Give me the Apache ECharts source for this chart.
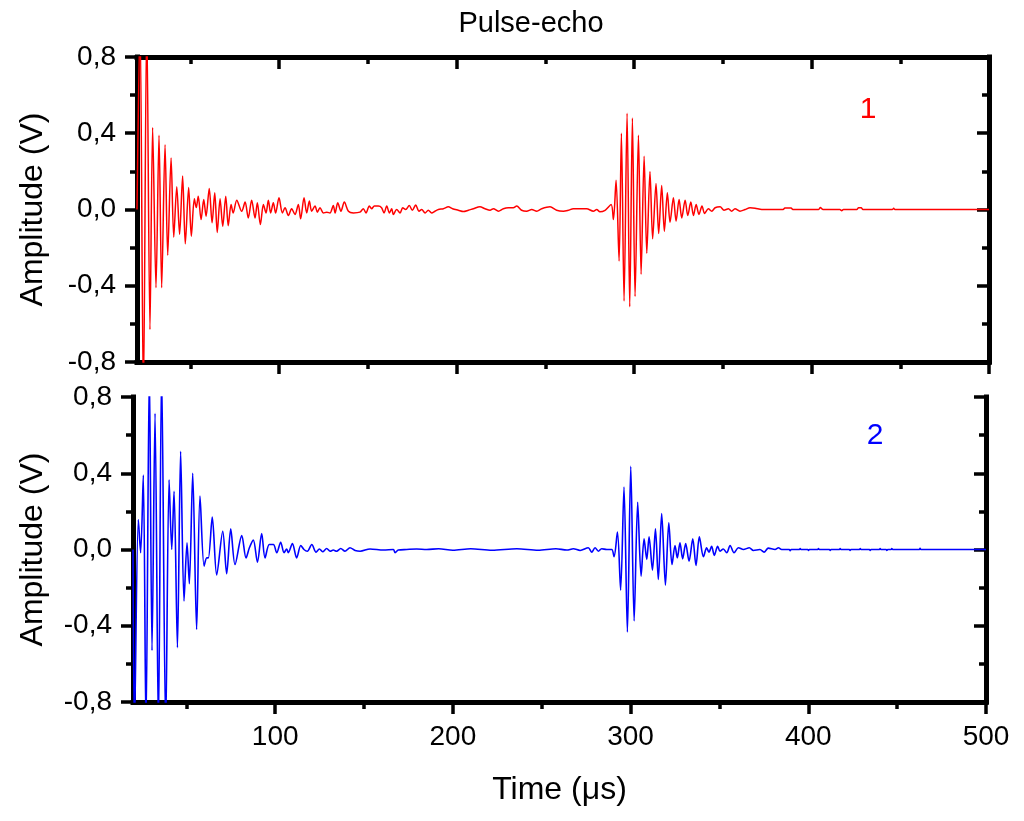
<!DOCTYPE html>
<html>
<head>
<meta charset="utf-8">
<title>Pulse-echo</title>
<script src="https://cdn.jsdelivr.net/npm/echarts@6/dist/echarts.min.js"></script>
<style>html,body{margin:0;padding:0;background:#fff;}</style>
</head>
<body>
<div id="main" style="width:1024px;height:821px;"></div>
<script>
// tick values
var timeTicks = [100, 200, 300, 400, 500];
var timeMinorTicks = [50, 150, 250, 350, 450];
var ampTicks = [-0.8, -0.4, 0, 0.4, 0.8];

// signal 1 (red), [time µs, amplitude V], read peak by peak
var topRinging = [
  [20.0, 0.0], [21.7, 1.0], [23.6, -1.0], [25.5, 1.0], [27.3, -0.63], [28.8, 0.43],
  [30.7, -0.41], [32.4, 0.39], [33.9, -0.41], [35.8, 0.34], [37.3, -0.24], [39.2, 0.27],
  [40.7, -0.145], [42.4, 0.12], [44.0, -0.13], [45.7, 0.176], [47.2, -0.18], [49.1, 0.115],
  [50.6, -0.14], [52.3, 0.056], [53.4, 0.01], [54.5, 0.07], [56.1, -0.053], [57.6, 0.053],
  [58.9, -0.035], [60.7, 0.11], [62.3, -0.07], [63.8, 0.088], [65.2, -0.12], [66.8, 0.056],
  [68.3, -0.088], [70.0, 0.07], [71.4, -0.085], [73.0, 0.026], [74.2, -0.018], [76.2, 0.049]
];
var topNoise = [
  [79.0, -0.009], [80.9, 0.039], [82.7, -0.044], [84.6, 0.049], [86.5, -0.044], [87.8, 0.035],
  [89.5, -0.079], [91.2, 0.026], [92.7, -0.018], [94.0, 0.049], [95.3, -0.018], [96.8, 0.035],
  [98.1, -0.018], [100.0, 0.061], [101.9, -0.018], [103.4, 0.009], [105.3, -0.032], [107.1, 0.004],
  [109.0, -0.026], [110.9, 0.026], [112.2, -0.049], [114.1, 0.061], [115.6, -0.018], [117.1, 0.044],
  [118.4, -0.009], [120.3, 0.018], [121.6, -0.014], [123.1, 0.009], [125.0, -0.018], [126.9, -0.014],
  [128.7, -0.018], [130.6, 0.021], [131.6, -0.018], [133.1, 0.035], [134.9, -0.009], [136.8, 0.039],
  [139.1, -0.009], [141.9, -0.018], [145.6, -0.014], [147.5, 0.004], [149.0, -0.018], [150.9, 0.018],
  [152.2, 0.004], [153.7, 0.018], [156.0, 0.018], [157.8, 0.009], [159.2, -0.018], [160.7, 0.018],
  [162.2, -0.018], [163.5, 0.004], [164.4, -0.026], [166.3, 0.0], [168.2, -0.018], [169.7, 0.009],
  [171.4, 0.0], [173.4, 0.021], [175.1, -0.004], [177.0, 0.023], [178.9, -0.009], [180.4, 0.0],
  [182.3, -0.018], [184.1, -0.004], [186.0, -0.018], [187.9, -0.009], [189.8, 0.0], [192.6, 0.004],
  [195.4, 0.014], [197.8, 0.004], [201.0, -0.004], [203.9, -0.011], [206.7, -0.004], [209.5, 0.004],
  [213.2, 0.014], [216.1, 0.004], [218.9, -0.004], [220.8, 0.004], [223.6, -0.009], [226.4, 0.004],
  [229.2, 0.009], [232.0, 0.009], [233.9, 0.018], [236.7, -0.004], [239.5, -0.009], [242.4, 0.0],
  [245.2, -0.009], [248.0, 0.004], [252.7, 0.014], [256.4, -0.004], [260.2, -0.009], [263.0, -0.004],
  [265.8, 0.004], [273.3, 0.004], [277.1, -0.009], [279.0, 0.0], [280.8, -0.012], [283.7, -0.004]
];
var topEcho = [
  [287.1, 0.026], [288.4, -0.053], [289.9, 0.154], [291.6, -0.27], [292.9, 0.40], [294.4, -0.48],
  [296.1, 0.505], [297.6, -0.51], [299.1, 0.48], [300.6, -0.456], [302.5, 0.39], [304.0, -0.34],
  [305.7, 0.28], [307.2, -0.23], [309.0, 0.20], [310.5, -0.154], [312.4, 0.137], [313.9, -0.126],
  [315.6, 0.126], [317.1, -0.114], [318.8, 0.088], [320.3, -0.067], [322.2, 0.061], [323.7, -0.061],
  [325.4, 0.053], [326.9, -0.044], [328.8, 0.049], [330.3, -0.032], [332.0, 0.039], [333.5, -0.032],
  [335.0, 0.026], [336.6, -0.026], [338.3, 0.018], [339.8, -0.021], [341.9, 0.004], [343.8, -0.009],
  [345.7, 0.009], [348.5, 0.014], [350.7, -0.004], [353.2, 0.004], [355.0, -0.009], [356.9, 0.004],
  [359.7, -0.009], [362.6, 0.0], [365.4, 0.009], [368.2, 0.007], [372.0, 0.0]
];
var topTail = [
  [384.0, 0.0], [385.0, 0.008], [388.5, 0.008], [389.5, 0.0], [404.0, 0.0], [405.0, 0.01],
  [406.5, 0.0], [416.0, 0.0], [417.0, -0.006], [418.0, 0.0], [425.5, 0.0], [426.5, 0.009],
  [428.0, 0.009], [429.0, 0.0], [445.5, 0.0], [446.3, 0.006], [447.0, 0.0], [500.0, 0.0]
];

// signal 2 (blue)
var bottomRinging = [
  [20.0, 0.0], [20.8, -0.95], [23.0, 0.157], [24.3, -0.017], [25.8, 0.39], [27.3, -0.95],
  [29.2, 0.95], [30.7, -0.53], [32.4, 0.715], [34.3, -0.95], [36.1, 0.95], [38.4, -0.95],
  [40.3, 0.366], [41.8, 0.0], [43.1, 0.305], [45.0, -0.515], [46.8, 0.515], [48.7, -0.27],
  [50.4, 0.035], [51.7, -0.18], [53.6, 0.40], [55.8, -0.42], [57.7, 0.28], [60.0, -0.087],
  [61.5, -0.044], [62.4, -0.044], [64.6, 0.17], [67.1, -0.134], [70.5, 0.096], [72.7, -0.127],
  [75.0, 0.108], [77.4, -0.079], [81.2, 0.073]
];
var bottomNoise = [
  [83.6, -0.044], [85.5, 0.009], [87.7, 0.049], [90.0, -0.066], [92.4, 0.084], [94.3, -0.044],
  [96.7, 0.026], [99.0, 0.026], [100.9, -0.017], [103.1, 0.038], [105.0, -0.017], [106.5, 0.003],
  [107.4, -0.017], [109.7, 0.031], [112.1, -0.044], [114.4, 0.021], [116.2, 0.0], [118.1, -0.009],
  [120.6, 0.026], [123.0, -0.014], [124.9, 0.003], [126.7, -0.012], [129.0, 0.005], [130.9, -0.009],
  [132.7, -0.003], [134.6, -0.009], [136.9, 0.005], [139.3, -0.009], [142.1, 0.009], [145.0, -0.005],
  [147.8, -0.009], [153.4, 0.003], [160.9, -0.003], [166.5, 0.0], [167.5, -0.017], [169.3, -0.003],
  [174.0, 0.0], [179.6, 0.003], [185.3, 0.0], [192.0, 0.004], [200.0, -0.004], [210.0, 0.004],
  [222.0, -0.004], [236.0, 0.004], [248.0, -0.004], [258.0, 0.004], [264.1, -0.003], [267.8, 0.004],
  [271.6, -0.005], [276.2, 0.009], [278.1, -0.014], [280.0, 0.009], [281.9, -0.009], [283.7, 0.004],
  [286.6, 0.0], [289.4, 0.0]
];
var bottomEcho = [
  [290.7, -0.038], [292.6, 0.091], [294.4, -0.213], [296.3, 0.328], [298.2, -0.433], [300.1, 0.436],
  [302.0, -0.375], [304.0, 0.248], [305.9, -0.14], [307.6, 0.056], [309.1, -0.052], [310.4, 0.066],
  [312.3, -0.108], [314.0, 0.108], [315.6, -0.157], [317.5, 0.188], [319.6, -0.187], [321.5, 0.14],
  [323.3, -0.079], [325.0, 0.021], [326.3, -0.044], [327.8, 0.035], [329.3, -0.049], [331.0, 0.031],
  [332.9, -0.061], [335.0, 0.056], [336.8, -0.084], [338.7, 0.066], [341.0, -0.038], [342.8, 0.009],
  [344.1, -0.014], [345.6, 0.017], [347.1, -0.031], [349.0, 0.017], [350.3, -0.009], [352.2, 0.003],
  [354.1, -0.017], [356.0, 0.021], [358.2, -0.017], [360.7, 0.009], [363.5, 0.0], [366.8, 0.009],
  [369.1, -0.005], [372.8, 0.0], [375.1, -0.014], [377.5, 0.007], [381.3, 0.0], [383.2, 0.009]
];
var bottomTail = [
  [385.0, 0.0], [389.3, 0.0], [389.8, -0.006], [390.4, 0.0], [395.0, 0.0], [395.4, 0.005],
  [395.9, 0.0], [399.7, 0.0], [400.1, -0.005], [400.6, 0.0], [405.3, 0.0], [405.7, 0.005],
  [406.2, 0.0], [411.9, 0.0], [412.3, -0.005], [412.8, 0.0], [417.5, 0.0], [417.9, 0.005],
  [418.4, 0.0], [423.1, 0.0], [423.5, -0.005], [424.0, 0.0], [428.8, 0.0], [429.2, 0.005],
  [429.7, 0.0], [434.4, 0.0], [434.8, -0.005], [435.3, 0.0], [440.0, 0.0], [440.4, 0.005],
  [440.9, 0.0], [443.8, 0.0], [444.2, -0.005], [444.7, 0.0], [446.6, 0.0], [447.0, 0.005],
  [447.5, 0.0], [462.5, 0.0], [462.9, 0.006], [463.4, 0.0], [500.0, 0.0]
];

var font = 'Liberation Sans, Arial, sans-serif';
var black = { color: '#000', width: 5, cap: 'square' };
var tickLine = { color: '#000', width: 3.5 };

function xAxisOf(grid, pos, ticks, len, inside, showLine, showLabel, name) {
  return {
    type: 'value', gridIndex: grid, position: pos, min: 20, max: 500,
    axisLine: { show: showLine, onZero: false, lineStyle: black },
    axisTick: { show: true, inside: inside, length: len, customValues: ticks, lineStyle: tickLine },
    axisLabel: { show: showLabel, customValues: ticks, margin: 21, fontSize: 28, color: '#000', fontFamily: font },
    splitLine: { show: false },
    name: name || '', nameLocation: 'middle', nameGap: 72,
    nameTextStyle: { fontSize: 32, color: '#000', fontFamily: font }
  };
}

function yAxisOf(grid, pos, inside, showLabel, name, gap) {
  return {
    type: 'value', gridIndex: grid, position: pos, min: -0.8, max: 0.8, interval: 0.4,
    axisLine: { show: true, onZero: false, lineStyle: black },
    axisTick: { show: true, inside: inside, length: 12, lineStyle: tickLine },
    minorTick: { show: true, splitNumber: 2, length: 7, lineStyle: tickLine },
    axisLabel: {
      show: showLabel, margin: 21, fontSize: 28, color: '#000', fontFamily: font,
      formatter: function (v) { return v.toFixed(1).replace('.', ','); }
    },
    splitLine: { show: false },
    name: name || '', nameLocation: 'middle', nameGap: gap || 0,
    nameTextStyle: { fontSize: 32, color: '#000', fontFamily: font }
  };
}

var chart = echarts.init(document.getElementById('main'));
chart.setOption({
  animation: false,
  backgroundColor: '#fff',
  title: {
    text: 'Pulse-echo', left: 526, top: 4, textAlign: 'center',
    textStyle: { fontSize: 29, fontWeight: 'normal', color: '#000', fontFamily: font }
  },
  grid: [
    { left: 137, right: 35, top: 57, height: 305 },
    { left: 133, right: 38, top: 397, height: 305 }
  ],
  xAxis: [
    xAxisOf(0, 'bottom', timeTicks, 12, false, true, false),
    xAxisOf(0, 'bottom', timeMinorTicks, 7, false, false, false),
    xAxisOf(0, 'top', timeTicks, 12, true, true, false),
    xAxisOf(0, 'top', timeMinorTicks, 7, true, false, false),
    xAxisOf(1, 'bottom', timeTicks, 12, false, true, true, 'Time (μs)'),
    xAxisOf(1, 'bottom', timeMinorTicks, 7, false, false, false)
  ],
  yAxis: [
    yAxisOf(0, 'left', false, true, 'Amplitude (V)', 88),
    yAxisOf(0, 'right', true, false),
    yAxisOf(1, 'left', false, true, 'Amplitude (V)', 84),
    yAxisOf(1, 'right', true, false)
  ],
  graphic: [
    { type: 'text', x: 868, y: 110, style: { text: '1', fontSize: 30, fontFamily: font, fill: '#ff0000', align: 'center', verticalAlign: 'middle' } },
    { type: 'text', x: 875, y: 436, style: { text: '2', fontSize: 30, fontFamily: font, fill: '#0000ff', align: 'center', verticalAlign: 'middle' } }
  ],
  series: [
    {
      type: 'line', xAxisIndex: 0, yAxisIndex: 0, showSymbol: false, smooth: 0.3,
      lineStyle: { color: '#ff0000', width: 1.5 },
      data: topRinging.concat(topNoise, topEcho, topTail)
    },
    {
      type: 'line', xAxisIndex: 4, yAxisIndex: 2, showSymbol: false, smooth: 0.3,
      lineStyle: { color: '#0000ff', width: 1.6 },
      data: bottomRinging.concat(bottomNoise, bottomEcho, bottomTail)
    }
  ]
});
</script>
</body>
</html>
